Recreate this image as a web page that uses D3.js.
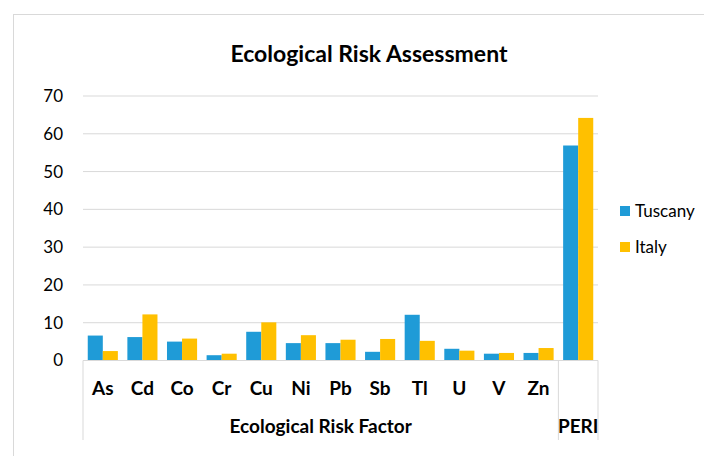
<!DOCTYPE html>
<html>
<head>
<meta charset="utf-8">
<script src="https://cdn.jsdelivr.net/npm/d3@7"></script>
<style>
  body { margin: 0; background: #fff; }
  text { font-family: Lato, "Open Sans", sans-serif; fill: #000; }
</style>
</head>
<body>
<div id="chart"></div>
<script>
// data
const categories = ['As','Cd','Co','Cr','Cu','Ni','Pb','Sb','Tl','U','V','Zn','PERI'];
const tuscany = [6.6, 6.2, 5.0, 1.4, 7.6, 4.6, 4.6, 2.3, 12.1, 3.1, 1.8, 2.0, 56.9];
const italy   = [2.5, 12.2, 5.8, 1.8, 10.1, 6.7, 5.5, 5.7, 5.2, 2.6, 2.0, 3.3, 64.2];
const seriesNames = ['Tuscany','Italy'];
const colors = ['#1f9bd7','#ffc000'];
const yTicks = [0,10,20,30,40,50,60,70];
const groups = [
  {name:'Ecological Risk Factor', from:'As', to:'Zn'},
  {name:'PERI', from:'PERI', to:'PERI'}
];

const W = 704, H = 456;
const plotLeft = 83, plotRight = 598, plotTop = 96, base = 360.5;

const svg = d3.select('#chart').append('svg')
  .attr('width', W).attr('height', H);

// chart frame (runs off the right/bottom like in the reference)
svg.append('rect')
  .attr('x', 13.5).attr('y', 14.5)
  .attr('width', 720).attr('height', 460)
  .attr('fill', '#fff').attr('stroke', '#d9d9d9');

const y = d3.scaleLinear().domain([0,70]).range([base, plotTop]);
const x0 = d3.scaleBand().domain(categories)
  .range([plotLeft, plotRight]).paddingInner(0.24).paddingOuter(0.12);
const x1 = d3.scaleBand().domain(seriesNames)
  .range([0, x0.bandwidth()]);

// gridlines
svg.append('g').selectAll('line')
  .data(yTicks.slice(1))
  .join('line')
  .attr('x1', plotLeft).attr('x2', plotRight)
  .attr('y1', d => y(d)).attr('y2', d => y(d))
  .attr('stroke', '#d9d9d9').attr('stroke-width', 1);

// y axis labels
const yAxis = svg.append('g')
  .attr('transform', `translate(${plotLeft},0)`)
  .call(d3.axisLeft(y).tickValues(yTicks).tickSize(0).tickPadding(20));
yAxis.select('.domain').remove();
yAxis.selectAll('.tick text')
  .style('font-size', '17px')
  .style('font-family', 'Lato, sans-serif')
  .attr('fill', '#000');

// bars
const rows = categories.map((c, i) => ({cat: c, vals: [tuscany[i], italy[i]]}));
svg.append('g').selectAll('g')
  .data(rows)
  .join('g')
  .attr('transform', d => `translate(${x0(d.cat)},0)`)
  .selectAll('rect')
  .data(d => d.vals.map((v, j) => ({s: seriesNames[j], v: v, j: j})))
  .join('rect')
  .attr('x', d => x1(d.s))
  .attr('width', x1.bandwidth())
  .attr('y', d => y(d.v))
  .attr('height', d => base - y(d.v))
  .attr('fill', d => colors[d.j]);

// baseline
svg.append('line')
  .attr('x1', plotLeft).attr('x2', plotRight)
  .attr('y1', base).attr('y2', base)
  .attr('stroke', '#d9d9d9');

// multi-level category axis
const step = x0.step();
const edge = c => plotLeft + categories.indexOf(c) * step;
const seps = [plotLeft].concat(groups.map(g => edge(g.to) + step));
svg.append('g').selectAll('line')
  .data(seps)
  .join('line')
  .attr('x1', d => d).attr('x2', d => d)
  .attr('y1', base).attr('y2', 440)
  .attr('stroke', '#d9d9d9');

svg.append('g').selectAll('text')
  .data(categories.filter(c => c !== 'PERI'))
  .join('text')
  .attr('x', d => x0(d) + x0.bandwidth() / 2)
  .attr('y', 395)
  .attr('text-anchor', 'middle')
  .style('font-size', '19px')
  .style('font-weight', 'bold')
  .text(d => d);

svg.append('g').selectAll('text')
  .data(groups)
  .join('text')
  .attr('x', d => (edge(d.from) + edge(d.to) + step) / 2)
  .attr('y', 433)
  .attr('text-anchor', 'middle')
  .style('font-size', '19px')
  .style('font-weight', 'bold')
  .text(d => d.name);

// title
svg.append('text')
  .attr('x', 369).attr('y', 62)
  .attr('text-anchor', 'middle')
  .style('font-size', '23px')
  .style('font-weight', 'bold')
  .text('Ecological Risk Assessment');

// legend
const legend = svg.append('g').selectAll('g')
  .data(seriesNames)
  .join('g')
  .attr('transform', (d, i) => `translate(620,${211 + i * 36})`);
legend.append('rect')
  .attr('x', 0).attr('y', -5)
  .attr('width', 10).attr('height', 10)
  .attr('fill', (d, i) => colors[i]);
legend.append('text')
  .attr('x', 15).attr('y', 6)
  .style('font-size', '17px')
  .text(d => d);
</script>
</body>
</html>
